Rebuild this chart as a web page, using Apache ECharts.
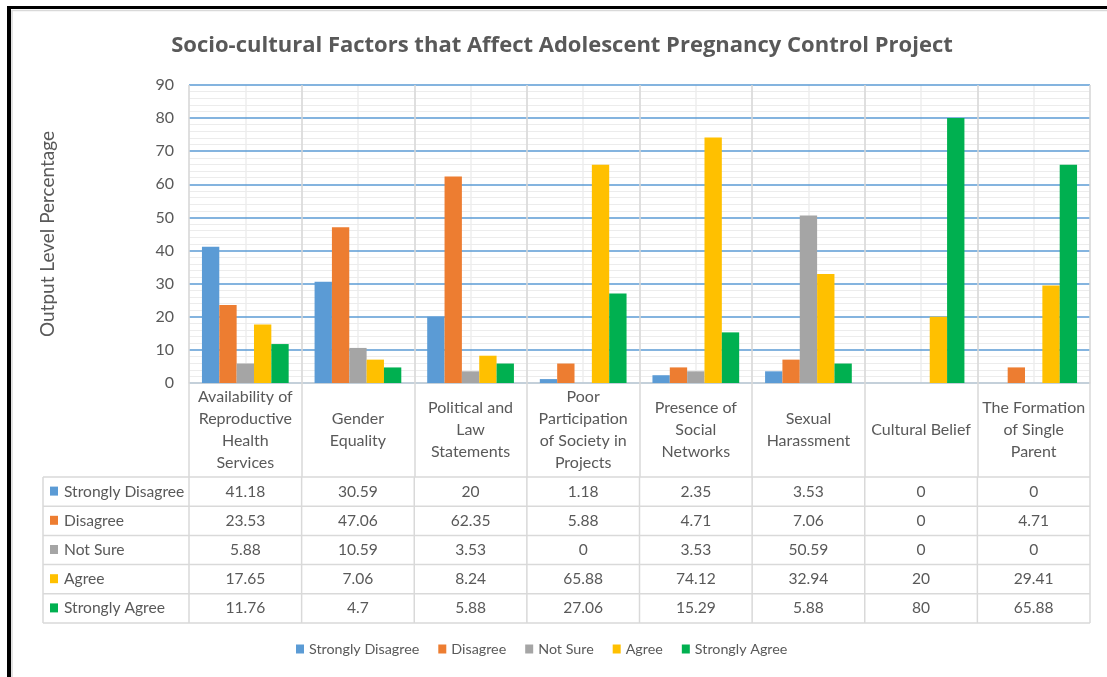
<!DOCTYPE html>
<html>
<head>
<meta charset="utf-8">
<script src="https://cdn.jsdelivr.net/npm/echarts@6/dist/echarts.min.js"></script>
<style>
html,body{margin:0;padding:0;background:#fff;}
#chart{width:1107px;height:677px;}
</style>
</head>
<body>
<div id="chart"></div>
<script>
const categories = [
  'Availability of Reproductive Health Services',
  'Gender Equality',
  'Political and Law Statements',
  'Poor Participation of Society in Projects',
  'Presence of Social Networks',
  'Sexual Harassment',
  'Cultural Belief',
  'The Formation of Single Parent'
];
const categoryLabels = [
  'Availability of\nReproductive\nHealth\nServices',
  'Gender\nEquality',
  'Political and\nLaw\nStatements',
  'Poor\nParticipation\nof Society in\nProjects',
  'Presence of\nSocial\nNetworks',
  'Sexual\nHarassment',
  'Cultural Belief',
  'The Formation\nof Single\nParent'
];
const seriesNames = ['Strongly Disagree', 'Disagree', 'Not Sure', 'Agree', 'Strongly Agree'];
const stronglyDisagree = [41.18, 30.59, 20, 1.18, 2.35, 3.53, 0, 0];
const disagree = [23.53, 47.06, 62.35, 5.88, 4.71, 7.06, 0, 4.71];
const notSure = [5.88, 10.59, 3.53, 0, 3.53, 50.59, 0, 0];
const agree = [17.65, 7.06, 8.24, 65.88, 74.12, 32.94, 20, 29.41];
const stronglyAgree = [11.76, 4.7, 5.88, 27.06, 15.29, 5.88, 80, 65.88];
const seriesColors = ['#5b9bd5', '#ed7d31', '#a5a5a5', '#ffc000', '#00b050'];
const yMin = 0, yMax = 90, yStep = 10;

const seriesData = [stronglyDisagree, disagree, notSure, agree, stronglyAgree];
const FONT = 'Lato';
const TXT = '#595959';
const GRIDC = '#d9d9d9';

const chart = echarts.init(document.getElementById('chart'), null, {renderer: 'canvas'});

const option = {
  animation: false,
  backgroundColor: '#fff',
  textStyle: {fontFamily: FONT, color: TXT},
  title: {
    text: 'Socio-cultural Factors that Affect Adolescent Pregnancy Control Project',
    left: 557, top: 30, textAlign: 'center',
    textStyle: {fontFamily: 'Open Sans', fontSize: 22, fontWeight: 'bold', color: TXT}
  },
  legend: {
    data: seriesNames,
    left: 296, top: 642, padding: 0,
    icon: 'rect', itemWidth: 8, itemHeight: 9, itemGap: 19,
    textStyle: {fontFamily: FONT, fontSize: 14.3, color: TXT}
  },
  grid: {left: 189, right: 17, top: 85, bottom: 294},
  xAxis: [
    {
      type: 'category', data: categories, z: 3,
      axisLine: {lineStyle: {color: GRIDC, width: 1.5}},
      axisTick: {show: true, length: 94, lineStyle: {color: GRIDC, width: 1.5}},
      axisLabel: {
        formatter: (v, i) => categoryLabels[i],
        fontFamily: FONT, fontSize: 16, lineHeight: 22, color: TXT,
        margin: 47, verticalAlign: 'middle', interval: 0
      },
      splitLine: {show: true, lineStyle: {color: GRIDC, width: 1.5}}
    },
    {
      type: 'value', min: 0, max: categories.length * 2, interval: 1, position: 'top', z: 1,
      axisLine: {show: false}, axisTick: {show: false}, axisLabel: {show: false},
      splitLine: {show: true, lineStyle: {color: '#eeeeee', width: 1.5}}
    }
  ],
  yAxis: {
    type: 'value', min: yMin, max: yMax, interval: yStep, z: 2,
    name: 'Output Level Percentage', nameLocation: 'middle', nameGap: 132,
    nameTextStyle: {fontFamily: FONT, fontSize: 19, color: TXT},
    axisLine: {show: false}, axisTick: {show: false},
    axisLabel: {fontFamily: FONT, fontSize: 16, color: TXT, margin: 15},
    splitLine: {lineStyle: {color: '#5b9bd5', width: 1.5}},
    minorTick: {show: false, splitNumber: 5},
    minorSplitLine: {show: true, lineStyle: {color: '#ececec', width: 1}}
  },
  series: seriesNames.map((name, k) => ({
    name, type: 'bar', xAxisIndex: 0, data: seriesData[k],
    barGap: '0%', barCategoryGap: '23%',
    itemStyle: {color: seriesColors[k]}, z: 4
  }))
};
chart.setOption(option);

// Data table below the plot, built from the same arrays and positioned on the axis scale
const els = [];
const xb = [];
for (let i = 0; i <= categories.length; i++) xb.push(chart.convertToPixel({xAxisIndex: 1}, i * 2));
const tableLeft = 43, tableTop = 477, rowH = 29.2;
const xRight = xb[xb.length - 1];
const line = (x1, y1, x2, y2) => els.push({type: 'line', shape: {x1, y1, x2, y2}, style: {stroke: GRIDC, lineWidth: 1.5}, silent: true});
for (let r = 0; r <= seriesNames.length; r++) {
  const y = tableTop + r * rowH;
  line(tableLeft, y, xRight, y);
}
const tableBottom = tableTop + seriesNames.length * rowH;
line(tableLeft, tableTop, tableLeft, tableBottom);
xb.forEach(x => line(x, tableTop, x, tableBottom));
seriesNames.forEach((name, r) => {
  const yc = tableTop + r * rowH + rowH / 2;
  els.push({type: 'rect', shape: {x: 50, y: yc - 5, width: 8, height: 9}, style: {fill: seriesColors[r]}, silent: true});
  els.push({type: 'text', x: 64, y: yc, style: {text: name, fill: TXT, font: '15.6px ' + FONT, textVerticalAlign: 'middle', textAlign: 'left'}, silent: true});
  seriesData[r].forEach((v, i) => {
    const xc = chart.convertToPixel({xAxisIndex: 0}, i);
    els.push({type: 'text', x: xc, y: yc, style: {text: String(v), fill: TXT, font: '15.6px ' + FONT, textVerticalAlign: 'middle', textAlign: 'center'}, silent: true});
  });
});
// outer frame
els.push({type: 'rect', shape: {x: 7, y: 6, width: 1100, height: 3}, style: {fill: '#000'}, silent: true});
els.push({type: 'rect', shape: {x: 7, y: 6, width: 4, height: 671}, style: {fill: '#000'}, silent: true});
els.push({type: 'line', shape: {x1: 12, y1: 10.5, x2: 1107, y2: 10.5}, style: {stroke: GRIDC, lineWidth: 1.5}, silent: true});
els.push({type: 'line', shape: {x1: 12, y1: 10, x2: 12, y2: 677}, style: {stroke: GRIDC, lineWidth: 1.5}, silent: true});
chart.setOption({graphic: els});
</script>
</body>
</html>
